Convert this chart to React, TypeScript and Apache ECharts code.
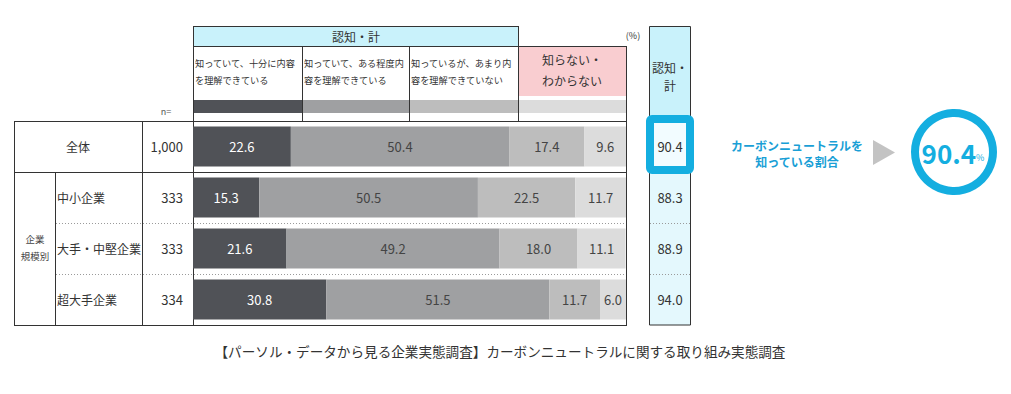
import React, { useEffect, useRef } from "react";
import * as echarts from "echarts";

const categories = ["全体", "中小企業", "大手・中堅企業", "超大手企業"];
const sampleSizes = ["1,000", "333", "333", "334"];
const seriesNames = [
  "知っていて、十分に内容を理解できている",
  "知っていて、ある程度内容を理解できている",
  "知っているが、あまり内容を理解できていない",
  "知らない・わからない",
];
const headerLines = [
  ["知っていて、十分に内容", "を理解できている"],
  ["知っていて、ある程度内", "容を理解できている"],
  ["知っているが、あまり内", "容を理解できていない"],
  ["知らない・", "わからない"],
];
const fullyUnderstand = [22.6, 15.3, 21.6, 30.8];
const somewhatUnderstand = [50.4, 50.5, 49.2, 51.5];
const notReallyUnderstand = [17.4, 22.5, 18.0, 11.7];
const dontKnow = [9.6, 11.7, 11.1, 6.0];
const awareTotal = [90.4, 88.3, 88.9, 94.0];
const colors = ["#505257", "#9fa0a2", "#bdbdbd", "#dcdcdc"];

const FONT = "'Noto Sans CJK JP', 'Noto Sans', sans-serif";
const LINE = "#333";
const BLUE = "#14aee0";

function hline(x1: number, x2: number, y: number, dashed = false, color = LINE) {
  return {
    type: "line",
    z: 1,
    shape: { x1, y1: y + 0.5, x2, y2: y + 0.5 },
    style: dashed
      ? { stroke: "#9a9a9a", lineWidth: 1, lineDash: [1, 2] }
      : { stroke: color, lineWidth: 1 },
  };
}
function vline(x: number, y1: number, y2: number) {
  return {
    type: "line",
    z: 1,
    shape: { x1: x + 0.5, y1, x2: x + 0.5, y2 },
    style: { stroke: LINE, lineWidth: 1 },
  };
}
function txt(text: string, x: number, y: number, size: number, opts: any = {}) {
  return {
    type: "text",
    z: 5,
    style: {
      text,
      x,
      y,
      fontSize: size,
      fontFamily: FONT,
      fill: opts.fill || "#333",
      fontWeight: opts.weight || "normal",
      textAlign: opts.align || "center",
      textVerticalAlign: "middle",
    },
  };
}

export default function App() {
  const ref = useRef<HTMLDivElement>(null);
  useEffect(() => {
    document.body.style.margin = "0";
    const chart = echarts.init(ref.current!, null, { renderer: "svg" });
    const colX = [193, 302, 409, 518, 626];
    const values = [fullyUnderstand, somewhatUnderstand, notReallyUnderstand, dontKnow];

    const elements: any[] = [];
    // backgrounds
    elements.push({ type: "rect", z: 0, shape: { x: 193, y: 26, width: 325, height: 20 }, style: { fill: "#c9f2fb" } });
    elements.push({ type: "rect", z: 0, shape: { x: 518, y: 46, width: 108, height: 50 }, style: { fill: "#f9cdd0" } });
    elements.push({ type: "rect", z: 0, shape: { x: 649, y: 26, width: 41, height: 95 }, style: { fill: "#c9f2fb" } });
    elements.push({ type: "rect", z: 0, shape: { x: 649, y: 121, width: 41, height: 204 }, style: { fill: "#e4f8fd" } });
    elements.push({ type: "rect", z: 1, shape: { x: 649.5, y: 26.5, width: 41, height: 298.5 }, style: { fill: "none", stroke: LINE, lineWidth: 1 } });
    // swatches
    for (let i = 0; i < 4; i++) {
      elements.push({ type: "rect", z: 0, shape: { x: colX[i], y: 100, width: colX[i + 1] - colX[i], height: 13 }, style: { fill: colors[i] } });
    }
    // header lines
    elements.push(hline(193, 518, 26));
    elements.push(hline(193, 626, 46));
    elements.push(vline(302, 46, 121));
    elements.push(vline(409, 46, 121));
    elements.push(vline(518, 26, 121));
    elements.push(vline(626, 46, 325));
    elements.push(vline(193, 26, 325));
    // table lines
    elements.push(hline(14, 627, 121));
    elements.push(hline(14, 627, 172));
    elements.push(hline(14, 627, 325));
    elements.push(vline(14, 121, 326));
    elements.push(vline(142, 121, 326));
    elements.push(vline(55, 172, 326));
    elements.push(hline(56, 626, 223, true));
    elements.push(hline(56, 626, 274, true));
    elements.push(hline(650, 690, 223, true));
    elements.push(hline(650, 690, 274, true));
    // highlight box
    elements.push({
      type: "rect",
      z: 2,
      shape: { x: 650, y: 119, width: 40, height: 51, r: 2 },
      style: { fill: "#f2fcff", stroke: BLUE, lineWidth: 8, lineJoin: "round" },
    });
    // header texts
    elements.push(txt("認知・計", 356, 36, 12));
    for (let i = 0; i < 3; i++) {
      elements.push(txt(headerLines[i][0], colX[i] + 2, 63, 9.2, { align: "left" }));
      elements.push(txt(headerLines[i][1], colX[i] + 2, 80, 9.2, { align: "left" }));
    }
    elements.push(txt(headerLines[3][0], 572, 59, 12));
    elements.push(txt(headerLines[3][1], 572, 80, 12));
    elements.push(txt("(%)", 633, 35, 9));
    elements.push(txt("認知・", 670, 67, 12));
    elements.push(txt("計", 670, 85, 12));
    elements.push(txt("n=", 166, 111, 9, { fill: "#555" }));
    elements.push(txt("企業", 35, 239, 9.5, { fill: "#444" }));
    elements.push(txt("規模別", 35, 256, 9.5, { fill: "#444" }));
    // annotation
    elements.push(txt("カーボンニュートラルを", 797, 145, 12, { fill: "#1a9fd6", weight: "bold" }));
    elements.push(txt("知っている割合", 797, 161, 12, { fill: "#1a9fd6", weight: "bold" }));
    elements.push({ type: "polygon", z: 2, shape: { points: [[873, 140], [895, 152.5], [873, 165]] }, style: { fill: "#c3c3c3" } });
    elements.push({ type: "circle", z: 2, shape: { cx: 954, cy: 152, r: 39 }, style: { fill: "#fff", stroke: BLUE, lineWidth: 8 } });
    elements.push({
      type: "text",
      z: 5,
      style: {
        text: `{a|${awareTotal[0].toFixed(1)}}{b|%}`,
        x: 953,
        y: 152,
        textAlign: "center",
        textVerticalAlign: "middle",
        rich: {
          a: { fontSize: 26, fontWeight: "bold", fontFamily: FONT, fill: BLUE, verticalAlign: "bottom" },
          b: { fontSize: 9, fontFamily: FONT, fill: BLUE, verticalAlign: "bottom", padding: [0, 0, 3, 0] },
        },
      },
    });
    // footer
    elements.push(txt("【パーソル・データから見る企業実態調査】カーボンニュートラルに関する取り組み実態調査", 500, 351, 13.6, { fill: "#333" }));

    chart.setOption({
      animation: false,
      textStyle: { fontFamily: FONT },
      grid: { left: 193, right: 385, top: 121, bottom: 69 },
      xAxis: { type: "value", min: 0, max: 100, show: false },
      yAxis: [
        {
          type: "category",
          data: categories,
          inverse: true,
          position: "left",
          z: 10,
          axisLine: { show: false },
          axisTick: { show: false },
          axisLabel: {
            margin: 136,
            align: "left",
            fontSize: 12,
            color: "#333",
            formatter: (v: string, i: number) => (i === 0 ? `{c|${v}}` : `{l|${v}}`),
            rich: {
              c: { width: 42, align: "center", fontSize: 12, color: "#333" },
              l: { fontSize: 12, color: "#333" },
            },
          },
        },
        {
          type: "category",
          data: sampleSizes,
          inverse: true,
          position: "left",
          z: 10,
          axisLine: { show: false },
          axisTick: { show: false },
          axisLabel: { margin: 10, fontSize: 13, color: "#333" },
        },
        {
          type: "category",
          data: awareTotal.map((v) => v.toFixed(1)),
          inverse: true,
          position: "right",
          z: 10,
          axisLine: { show: false },
          axisTick: { show: false },
          axisLabel: { margin: 44, align: "center", fontSize: 13, color: "#333" },
        },
      ],
      series: values.map((d, i) => ({
        name: seriesNames[i],
        type: "bar",
        stack: "total",
        yAxisIndex: 0,
        barWidth: 40,
        data: d,
        itemStyle: { color: colors[i] },
        label: {
          show: true,
          position: "inside",
          fontSize: 13,
          color: i === 0 ? "#fff" : "#444",
          formatter: (p: any) => Number(p.value).toFixed(1),
        },
      })),
      graphic: { elements },
    });
    return () => chart.dispose();
  }, []);
  return <div ref={ref} style={{ position: "absolute", left: 0, top: 0, width: 1011, height: 394 }} />;
}
